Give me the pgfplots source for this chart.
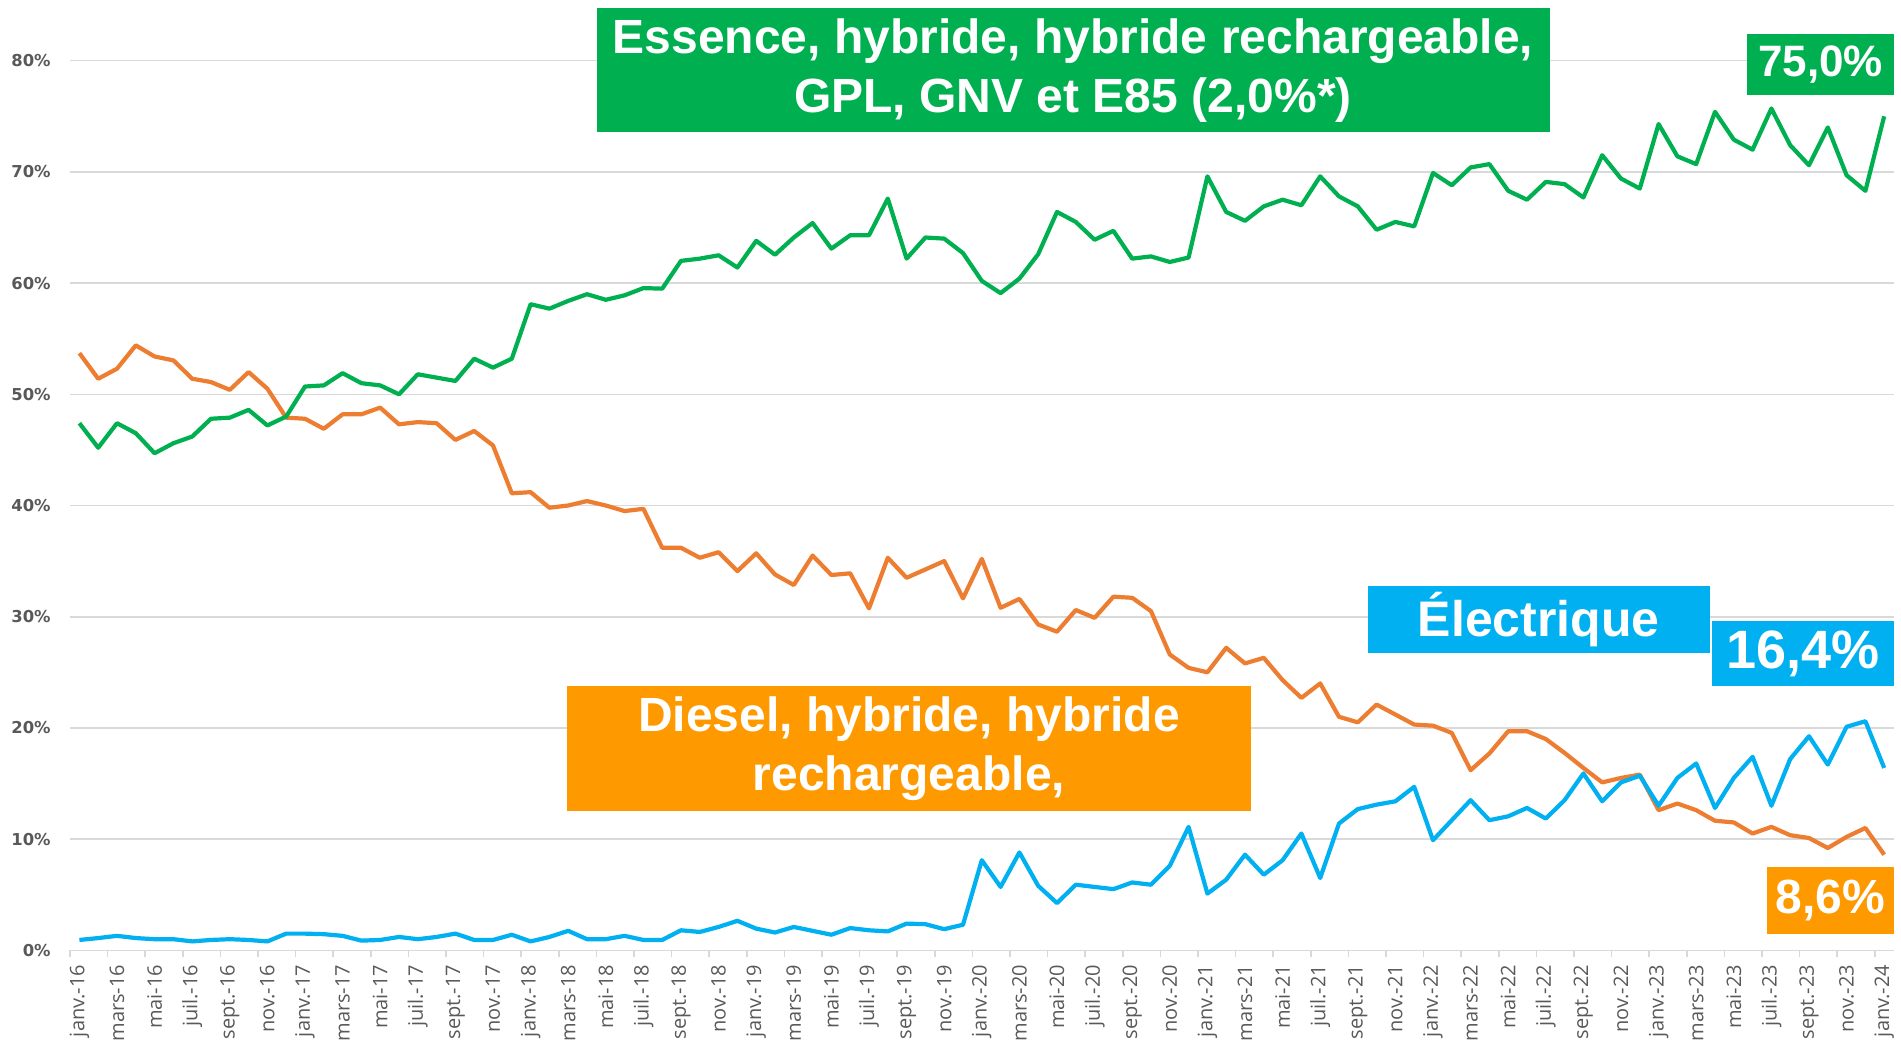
\documentclass[border=0pt]{standalone}
\usepackage{pgfplots}
\pgfplotsset{compat=1.18}
\usepackage{fontspec}
\setmainfont{Liberation Sans}
\newfontfamily\dejavu{DejaVu Sans}
\newfontfamily\opensans{Open Sans}
\definecolor{cgreen}{HTML}{00B050}
\definecolor{corange}{HTML}{ED7D31}
\definecolor{cblue}{HTML}{00B0F0}
\definecolor{cboxorange}{HTML}{FF9900}
\definecolor{cgray}{HTML}{595959}
\definecolor{cgrid}{HTML}{D9D9D9}
\pgfplotstableread{
i green orange blue
0 47.4 53.7 0.93
1 45.2 51.4 1.1
2 47.4 52.3 1.3
3 46.5 54.4 1.1
4 44.7 53.4 1.0
5 45.6 53.05 1.0
6 46.2 51.4 0.8
7 47.8 51.1 0.93
8 47.9 50.4 1.0
9 48.6 52.0 0.93
10 47.2 50.5 0.8
11 48.0 47.9 1.5
12 50.7 47.8 1.5
13 50.8 46.9 1.45
14 51.9 48.2 1.3
15 51.0 48.2 0.87
16 50.8 48.8 0.93
17 50.0 47.3 1.2
18 51.8 47.5 1.0
19 51.5 47.4 1.2
20 51.2 45.9 1.5
21 53.2 46.7 0.93
22 52.4 45.4 0.93
23 53.2 41.1 1.4
24 58.1 41.2 0.8
25 57.7 39.8 1.2
26 58.4 40.0 1.75
27 59.0 40.4 1.0
28 58.5 40.0 1.0
29 58.9 39.5 1.3
30 59.55 39.7 0.93
31 59.5 36.2 0.93
32 62.0 36.2 1.8
33 62.2 35.3 1.65
34 62.5 35.8 2.1
35 61.4 34.1 2.65
36 63.8 35.7 1.95
37 62.55 33.8 1.6
38 64.1 32.85 2.1
39 65.4 35.5 1.75
40 63.1 33.75 1.4
41 64.3 33.9 2.0
42 64.3 30.75 1.8
43 67.6 35.3 1.7
44 62.2 33.5 2.4
45 64.1 34.25 2.35
46 64.0 35.0 1.9
47 62.7 31.65 2.3
48 60.2 35.2 8.1
49 59.1 30.8 5.7
50 60.4 31.6 8.8
51 62.6 29.3 5.8
52 66.4 28.65 4.25
53 65.5 30.6 5.9
54 63.9 29.9 5.7
55 64.7 31.8 5.5
56 62.2 31.7 6.1
57 62.4 30.5 5.9
58 61.9 26.6 7.6
59 62.3 25.4 11.1
60 69.6 25.0 5.1
61 66.4 27.2 6.35
62 65.6 25.8 8.6
63 66.9 26.3 6.8
64 67.5 24.3 8.1
65 67.0 22.7 10.5
66 69.6 24.0 6.5
67 67.8 21.0 11.4
68 66.9 20.5 12.7
69 64.8 22.1 13.1
70 65.5 21.2 13.4
71 65.1 20.3 14.7
72 69.9 20.2 9.9
73 68.8 19.55 11.7
74 70.4 16.2 13.5
75 70.7 17.7 11.7
76 68.3 19.7 12.05
77 67.5 19.7 12.8
78 69.1 19.0 11.85
79 68.9 17.75 13.5
80 67.7 16.4 15.9
81 71.5 15.1 13.4
82 69.4 15.5 15.1
83 68.5 15.8 15.7
84 74.3 12.6 13.0
85 71.4 13.2 15.5
86 70.7 12.6 16.8
87 75.4 11.65 12.8
88 72.9 11.5 15.5
89 72.0 10.5 17.4
90 75.7 11.1 13.0
91 72.4 10.35 17.2
92 70.6 10.1 19.25
93 74.0 9.2 16.7
94 69.7 10.2 20.1
95 68.3 11.0 20.6
96 75.0 8.6 16.4
}\datatable
\begin{document}
\begin{tikzpicture}
\useasboundingbox (0,0) rectangle (950.5pt,523pt);
\begin{axis}[
  scale only axis,
  width=911.8pt, height=444.8pt,
  at={(35pt,47.85pt)}, anchor=south west,
  xmin=-0.5, xmax=96.5, ymin=0, ymax=80,
  axis line style={draw=none},
  tick pos=left,
  ymajorgrids, grid style={draw=cgrid, line width=0.8pt},
  major tick length=0pt,
  ytick={0,10,...,80},
  yticklabels={0\%,10\%,20\%,30\%,40\%,50\%,60\%,70\%,80\%},
  yticklabel style={font=\dejavu\bfseries\fontsize{8.2}{9}\selectfont, text=cgray, anchor=east, inner sep=0pt, xshift=-9.5pt},
  xtick={0,2,...,96},
  xticklabels={janv.-16,mars-16,mai-16,juil.-16,sept.-16,nov.-16,
    janv.-17,mars-17,mai-17,juil.-17,sept.-17,nov.-17,
    janv.-18,mars-18,mai-18,juil.-18,sept.-18,nov.-18,
    janv.-19,mars-19,mai-19,juil.-19,sept.-19,nov.-19,
    janv.-20,mars-20,mai-20,juil.-20,sept.-20,nov.-20,
    janv.-21,mars-21,mai-21,juil.-21,sept.-21,nov.-21,
    janv.-22,mars-22,mai-22,juil.-22,sept.-22,nov.-22,
    janv.-23,mars-23,mai-23,juil.-23,sept.-23,nov.-23,janv.-24},
  xticklabel style={font=\opensans\fontsize{10}{11}\selectfont, text=cgray, yshift=-7pt, rotate=90, anchor=east, inner sep=0pt},
  extra x ticks={-0.5,1.5,...,96.5},
  extra x tick labels={},
  extra x tick style={grid=none, major tick length=3.5pt, tick align=outside, tick pos=left, tick style={draw=cgrid, line width=0.8pt}},
  clip=false,
]
\addplot[corange, line width=2.1pt, line join=round] table[x=i, y=orange]{\datatable};
\addplot[cgreen, line width=2.1pt, line join=round] table[x=i, y=green]{\datatable};
\addplot[cblue, line width=2.1pt, line join=round] table[x=i, y=blue]{\datatable};
\end{axis}
% annotation boxes
\fill[cgreen] (298.25pt,457pt) rectangle (774.75pt,518.75pt);
\node[text=white, font=\bfseries\fontsize{24}{29.5}\selectfont, align=center, inner sep=0pt] at (536.5pt,487.9pt) {Essence, hybride, hybride rechargeable,\\GPL, GNV et E85 (2,0\%*)};
\fill[cgreen] (873.5pt,475.5pt) rectangle (947pt,506pt);
\node[text=white, font=\bfseries\fontsize{22}{26}\selectfont, inner sep=0pt] at (910.25pt,490.75pt) {75,0\%};
\fill[cblue] (684pt,196.75pt) rectangle (854.75pt,230pt);
\node[text=white, font=\bfseries\fontsize{25}{29}\selectfont, inner sep=0pt] at (769.4pt,213.4pt) {Électrique};
\fill[cblue] (856pt,180pt) rectangle (947pt,212.5pt);
\node[text=white, font=\bfseries\fontsize{27}{30}\selectfont, inner sep=0pt] at (901.5pt,196.25pt) {16,4\%};
\fill[cboxorange] (283.5pt,117.75pt) rectangle (625.5pt,180pt);
\node[text=white, font=\bfseries\fontsize{24}{29.5}\selectfont, align=center, inner sep=0pt] at (454.5pt,148.9pt) {Diesel, hybride, hybride\\rechargeable,};
\fill[cboxorange] (883.5pt,56pt) rectangle (947pt,89.5pt);
\node[text=white, font=\bfseries\fontsize{24}{29}\selectfont, inner sep=0pt] at (915.25pt,72.75pt) {8,6\%};
\end{tikzpicture}
\end{document}
